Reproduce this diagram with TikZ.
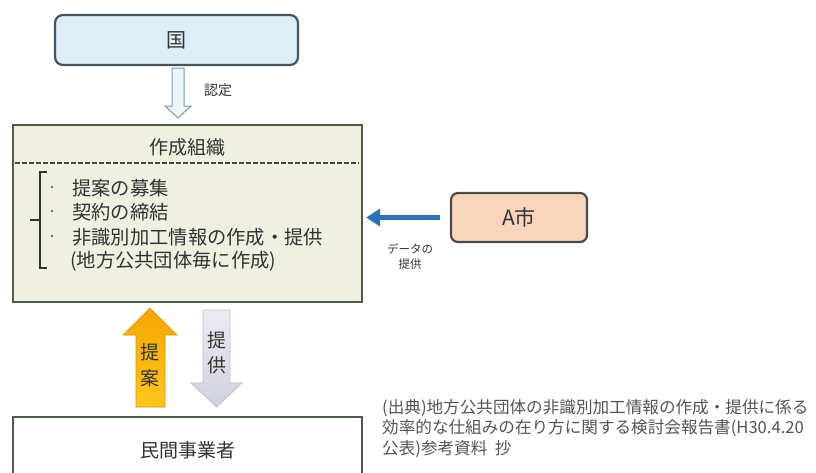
\documentclass[tikz,border=0pt]{standalone}
\usepackage{fontspec}
\setmainfont{Noto Sans CJK JP}
\newfontfamily\jp{Noto Sans CJK JP}
\usetikzlibrary{calc,arrows.meta}
\definecolor{kunifill}{HTML}{DCEEF8}
\definecolor{kunidraw}{HTML}{435360}
\definecolor{orgfill}{HTML}{EFF0E0}
\definecolor{orgdraw}{HTML}{4F5B4C}
\definecolor{ashifill}{HTML}{F9D5BE}
\definecolor{ashidraw}{HTML}{4B4B4B}
\definecolor{bluearr}{HTML}{2B73B4}
\definecolor{txt}{HTML}{333333}
\definecolor{cite}{HTML}{555555}
\definecolor{lavfill}{HTML}{DCDDEB}
\definecolor{lavdraw}{HTML}{BFC1D4}
\definecolor{ntfill}{HTML}{EEF5FA}
\definecolor{ntdraw}{HTML}{7F9AAA}
\definecolor{orA}{HTML}{F4A600}
\definecolor{orB}{HTML}{FFC61E}
\tikzset{
  box/.style={draw, line width=2.2pt, inner sep=0pt},
  jptext/.style={font=\jp\fontsize{#1}{#1}\selectfont, text=txt, inner sep=0pt},
  jptext/.default=19.3,
}
\begin{document}
\begin{tikzpicture}[x=1pt,y=-1pt]
\useasboundingbox[fill=white] (0,0) rectangle (816,472);
% boxes
\node[box, draw=kunidraw, fill=kunifill, rounded corners=8pt, minimum width=243pt, minimum height=50pt] (kuni) at (176.5,40) {};
\node[jptext=20] (kunit) at (kuni.center) {国};
\node[box, draw=orgdraw, fill=orgfill, minimum width=349pt, minimum height=177pt] (org) at (187.5,213.5) {};
\node[box, draw=ashidraw, fill=ashifill, rounded corners=7pt, minimum width=136pt, minimum height=49pt] (ashi) at (519,217.5) {};
\node[jptext=21] (ashit) at (ashi.center) {A市};
\node[box, draw=orgdraw, fill=white, minimum width=349pt, minimum height=80pt] (minkan) at (187.5,457) {};
\node[jptext=19] (minkant) at (187.5,450) {民間事業者};
% org content
\node[jptext=19] (orgt) at (187.5,147) {作成組織};
\coordinate (dl) at (15,163);
\coordinate (dr) at (359,163);
\draw[orgdraw!80!black, line width=1.6pt, dash pattern=on 5pt off 2pt] (dl) -- (dr);
\coordinate (bt) at (47,172);
\coordinate (bb) at (47,268);
\coordinate (bm) at (40,220);
\coordinate (bmt) at (30,220);
\draw[txt, line width=2pt] (bt) -- (40,172) -- (40,268) -- (bb);
\draw[txt, line width=2pt] (bm) -- (bmt);
\foreach \yy in {187,211,236} {
  \fill[txt!70] (52,\yy) circle (1.3pt);
}
\node[jptext, anchor=west] (l1) at (72,188) {提案の募集};
\node[jptext, anchor=west] (l2) at (72,212) {契約の締結};
\node[jptext, anchor=west] (l3) at (72,237) {非識別加工情報の作成・提供};
\node[jptext, anchor=west] (l4) at (70,261) {(地方公共団体毎に作成)};
% nintei arrow
\draw[ntdraw, fill=ntfill, line width=1pt] (172,68) -- (184,68) -- (184,106) -- (191,106) -- (178,118) -- (165,106) -- (172,106) -- cycle;
\node[jptext=14] (nt) at (218,90) {認定};
% blue arrow
\draw[bluearr, line width=4.5pt, -{Triangle[length=14pt,width=17pt]}] ([xshift=-10pt]ashi.west) -- ([xshift=3pt]ashi.west -| org.east);
\node[jptext=12, align=center, font=\jp\fontsize{11.5}{15}\selectfont] (dt) at (410,257) {データの\\提供};
% teian arrow (up)
\shade[top color=orA, bottom color=orB, draw=orA!90!black, line width=0.6pt] (150,308) -- (177,335) -- (165,335) -- (165,407) -- (136,407) -- (136,335) -- (123,335) -- cycle;
\node[jptext=19] (ta1) at (150,352) {提};
\node[jptext=19] (ta2) at (150,378) {案};
% teikyo arrow (down)
\shade[top color=lavfill!60!white, bottom color=lavfill!95!black, draw=lavdraw, line width=0.8pt] (203,310) -- (230,310) -- (230,383) -- (242,383) -- (216.5,407) -- (191,383) -- (203,383) -- cycle;
\node[jptext=19] (tk1) at (216.5,340) {提};
\node[jptext=19] (tk2) at (216.5,365) {供};
% citation
\node[anchor=north west, inner sep=0pt, text=cite, font=\jp\fontsize{16.6}{20.5}\selectfont, align=left] (cite) at (382,399) {(出典)地方公共団体の非識別加工情報の作成・提供に係る\\効率的な仕組みの在り方に関する検討会報告書(H30.4.20\\公表)参考資料\ \ 抄};
\end{tikzpicture}
\end{document}
